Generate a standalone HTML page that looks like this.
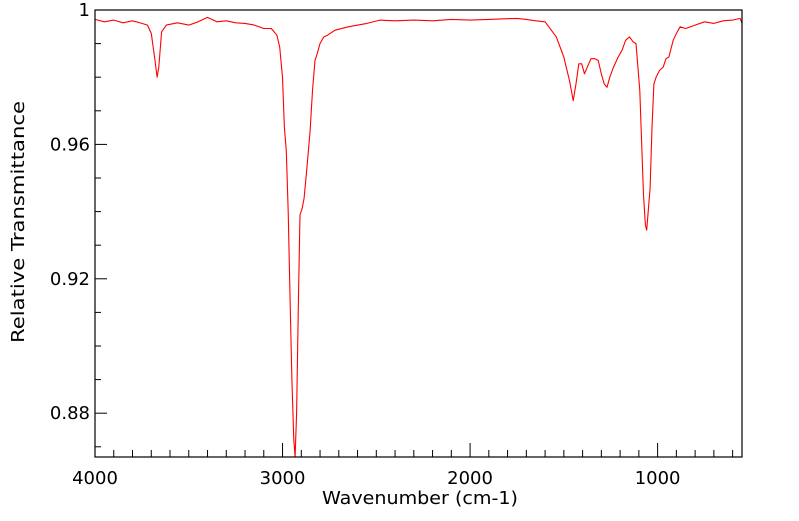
<!DOCTYPE html>
<html><head><meta charset="utf-8"><style>
body{margin:0;background:#fff;}
svg text{font-family:"DejaVu Sans","Liberation Sans",sans-serif;fill:#000;}
</style></head><body>
<svg id="chart" width="799" height="516" xmlns="http://www.w3.org/2000/svg">
<g id="ticks"></g>
<g id="labels"></g>
<polyline id="series" fill="none" stroke="#ff0000" stroke-width="1.1" stroke-linejoin="round"/>
<rect x="95" y="10" width="647" height="447" fill="none" stroke="#000" stroke-width="1.2"/>
<text x="322" y="504" font-size="18" textLength="196" lengthAdjust="spacingAndGlyphs">Wavenumber (cm-1)</text>
<text x="0" y="0" font-size="18" textLength="242" lengthAdjust="spacingAndGlyphs" transform="translate(24,343) rotate(-90)">Relative Transmittance</text>
</svg>
<script>
const wavenumbers=[4000,3950,3900,3850,3800,3750,3720,3700,3680,3669,3660,3645,3620,3560,3500,3450,3400,3350,3300,3250,3200,3150,3100,3060,3030,3015,3000,2990,2980,2970,2960,2950,2940,2933,2925,2915,2907,2895,2885,2870,2853,2840,2827,2815,2800,2780,2760,2720,2650,2550,2480,2400,2300,2200,2100,2000,1900,1800,1750,1700,1650,1600,1580,1540,1500,1470,1450,1435,1420,1405,1390,1375,1355,1335,1317,1300,1285,1270,1255,1235,1210,1190,1170,1150,1130,1115,1105,1095,1085,1075,1065,1058,1050,1040,1030,1020,1008,990,970,955,940,917,900,880,850,800,750,700,650,600,560,550];
const transmittance=[.9972,.9965,.9970,.9962,.9968,.9960,.9955,.9930,.9850,.9800,.9830,.9935,.9955,.9962,.9955,.9965,.9978,.9965,.9968,.9962,.9960,.9955,.9945,.9945,.9925,.9890,.9800,.9650,.9580,.9400,.9150,.8900,.8720,.8670,.8800,.9150,.9390,.9410,.9440,.9530,.9640,.9760,.9850,.9870,.9900,.9920,.9925,.9940,.9950,.9960,.9970,.9968,.9970,.9968,.9972,.9970,.9972,.9974,.9975,.9972,.9968,.9965,.9950,.9920,.9860,.9790,.9730,.9780,.9840,.9840,.9810,.9830,.9855,.9855,.9850,.9810,.9780,.9770,.9800,.9830,.9860,.9880,.9910,.9920,.9905,.9900,.9830,.9760,.9600,.9450,.9360,.9345,.9400,.9470,.9650,.9780,.9800,.9820,.9830,.9855,.9860,.9910,.9930,.9950,.9945,.9955,.9965,.9960,.9968,.9970,.9975,.9960];
const xTickLabels=[4000,3000,2000,1000];
const yTickLabels=[1,0.96,0.92,0.88];
const X0=95,X1=742,Y0=10,Y1=457,WMAX=4000,WMIN=550,TMAX=1,TMIN=0.86696;
const xs=w=>X0+(WMAX-w)/(WMAX-WMIN)*(X1-X0);
const ys=t=>Y0+(TMAX-t)/(TMAX-TMIN)*(Y1-Y0);
const NS='http://www.w3.org/2000/svg';
const tg=document.getElementById('ticks'),lg=document.getElementById('labels');
function line(x1,y1,x2,y2){const l=document.createElementNS(NS,'line');l.setAttribute('x1',x1);l.setAttribute('y1',y1);l.setAttribute('x2',x2);l.setAttribute('y2',y2);l.setAttribute('stroke','#000');l.setAttribute('stroke-width','1');


tg.appendChild(l);}
for(let w=4000;w>=WMIN;w-=100){const x=xs(w);const major=w%1000===0;line(x,Y1,x,Y1-(major?14:7));}
for(let k=0;k<=13;k++){const t=1-k*0.01;if(t<TMIN)break;const y=ys(t);const major=k%4===0;line(X0,y,X0+(major?12:6),y);}
xTickLabels.forEach(v=>{const t=document.createElementNS(NS,'text');t.setAttribute('x',xs(v));t.setAttribute('y',Y1+27);t.setAttribute('font-size','18');t.setAttribute('text-anchor','middle');t.textContent=v;


lg.appendChild(t);});
yTickLabels.forEach(v=>{const t=document.createElementNS(NS,'text');t.setAttribute('x',X0-5);t.setAttribute('y',ys(v)+6);t.setAttribute('font-size','18');t.setAttribute('text-anchor','end');t.textContent=v;


lg.appendChild(t);});
document.getElementById('series').setAttribute('points',wavenumbers.map((w,i)=>xs(w).toFixed(1)+','+Math.min(Y1,ys(transmittance[i])).toFixed(1)).join(' '));
</script>
</body></html>
